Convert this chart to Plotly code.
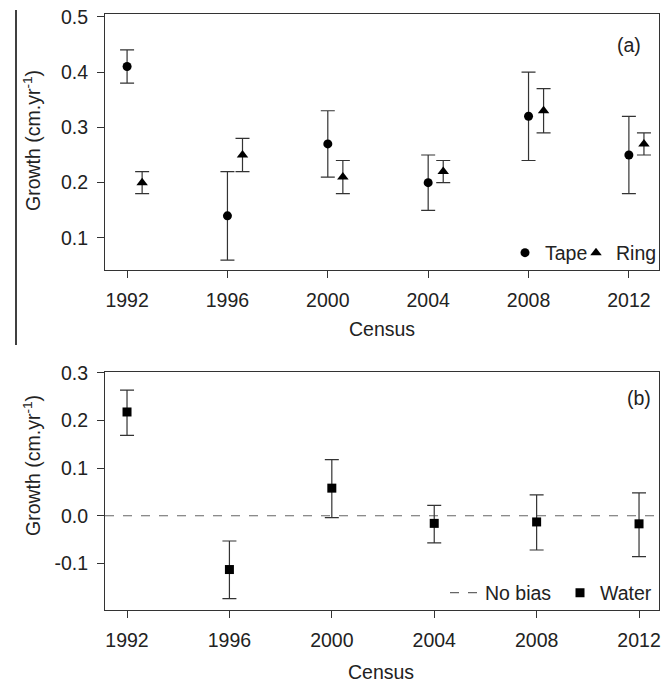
import plotly.graph_objects as go

# ---------------- data ----------------
census = [1992, 1996, 2000, 2004, 2008, 2012]

tape = [0.41, 0.14, 0.27, 0.20, 0.32, 0.25]
tape_lo = [0.38, 0.06, 0.21, 0.15, 0.24, 0.18]
tape_hi = [0.44, 0.22, 0.33, 0.25, 0.40, 0.32]

ring = [0.20, 0.25, 0.21, 0.22, 0.33, 0.27]
ring_lo = [0.18, 0.22, 0.18, 0.20, 0.29, 0.25]
ring_hi = [0.22, 0.28, 0.24, 0.24, 0.37, 0.29]

water = [0.218, -0.113, 0.058, -0.016, -0.013, -0.017]
water_lo = [0.169, -0.174, -0.004, -0.057, -0.072, -0.086]
water_hi = [0.264, -0.053, 0.118, 0.022, 0.044, 0.048]

ya_ticks = [0.1, 0.2, 0.3, 0.4, 0.5]
ya_labels = ["0.1", "0.2", "0.3", "0.4", "0.5"]
yb_ticks = [-0.1, 0.0, 0.1, 0.2, 0.3]
yb_labels = ["-0.1", "0.0", "0.1", "0.2", "0.3"]
x_ticks = census
x_labels = [str(c) for c in census]

# ---------------- layout helpers ----------------
W, H = 671, 683
FONT = "Liberation Sans, Arial, sans-serif"
FS = 19.5
INK = "#222222"
ERR = "#333333"


def px_x(p):
    return p / W


def px_y(p):
    return 1 - p / H


ring_shift = 0.6
ring_x = [c + ring_shift for c in census]

fig = go.Figure()


def err(vals, lo, hi):
    return dict(type="data", symmetric=False,
                array=[h - v for v, h in zip(vals, hi)],
                arrayminus=[v - l for v, l in zip(vals, lo)],
                color=ERR, thickness=1.2, width=7)


fig.add_trace(go.Scatter(x=census, y=tape, mode="markers", name="Tape",
                         marker=dict(symbol="circle", size=9, color="black"),
                         error_y=err(tape, tape_lo, tape_hi),
                         xaxis="x", yaxis="y", legend="legend"))
fig.add_trace(go.Scatter(x=ring_x, y=ring, mode="markers", name="Ring",
                         marker=dict(symbol="triangle-up", size=10, color="black"),
                         error_y=err(ring, ring_lo, ring_hi),
                         xaxis="x", yaxis="y", legend="legend3"))
fig.add_trace(go.Scatter(x=census, y=water, mode="markers", name="Water",
                         marker=dict(symbol="square", size=9, color="black"),
                         error_y=err(water, water_lo, water_hi),
                         xaxis="x2", yaxis="y2", legend="legend4"))

axis_common = dict(showline=True, linecolor="#333333", linewidth=1, mirror=True,
                   ticks="outside", ticklen=7, tickcolor="#333333", tickwidth=1,
                   showgrid=False, zeroline=False, automargin=False,
                   ticklabeloverflow="allow",
                   tickfont=dict(family=FONT, size=FS, color=INK))

top_dom = [px_y(270), px_y(14)]
bot_dom = [px_y(610), px_y(372)]
x_dom = [px_x(105), px_x(659)]


def leg(x, y):
    return dict(orientation="h", x=px_x(x), xanchor="left", y=px_y(y), yanchor="middle",
                bgcolor="rgba(0,0,0,0)", borderwidth=0,
                font=dict(family=FONT, size=FS, color=INK),
                itemwidth=30, tracegroupgap=0)


fig.update_layout(
    template="none",
    width=W, height=H,
    margin=dict(l=0, r=0, t=0, b=0, pad=0),
    paper_bgcolor="white", plot_bgcolor="white",
    font=dict(family=FONT, size=FS, color=INK),
    xaxis=dict(domain=x_dom, anchor="y", range=[1991.12, 2013.2],
               tickvals=x_ticks, ticktext=x_labels, ticklabelstandoff=6, **axis_common),
    yaxis=dict(domain=top_dom, anchor="x", range=[0.042, 0.505],
               tickvals=ya_ticks, ticktext=ya_labels, ticklabelstandoff=5, **axis_common),
    xaxis2=dict(domain=x_dom, anchor="y2", range=[1991.14, 2012.78],
                tickvals=x_ticks, ticktext=x_labels, ticklabelstandoff=6, **axis_common),
    yaxis2=dict(domain=bot_dom, anchor="x2", range=[-0.198, 0.302],
                tickvals=yb_ticks, ticktext=yb_labels, ticklabelstandoff=5, **axis_common),
    legend=leg(505, 253),
    legend3=leg(576, 253),
    legend2=leg(445, 593),
    legend4=leg(560, 593),
    showlegend=True,
)

# reference line (no bias) at zero
fig.add_shape(type="line", xref="x2 domain", yref="y2", x0=0, x1=1, y0=0, y1=0,
              line=dict(color="#666666", width=1.2, dash="dash"),
              showlegend=True, name="No bias", legend="legend2", layer="below")

# stray vertical rule at left
fig.add_shape(type="line", xref="paper", yref="paper", x0=px_x(16), x1=px_x(16),
              y0=px_y(10), y1=px_y(345), line=dict(color="black", width=1.5))

ann = []


def add_text(text, x, y, xa="center", ya="middle", angle=0):
    ann.append(dict(text=text, x=px_x(x), y=px_y(y), xref="paper", yref="paper",
                    xanchor=xa, yanchor=ya, showarrow=False, textangle=angle,
                    font=dict(family=FONT, size=FS, color=INK)))


add_text("Census", 382, 329)
add_text("Census", 381, 672)
add_text("Growth (cm.yr<sup>-1</sup>)", 32, 141, angle=-90)
add_text("Growth (cm.yr<sup>-1</sup>)", 32, 466, angle=-90)
add_text("(a)", 643, 45, xa="right")
add_text("(b)", 653, 398, xa="right")
fig.update_layout(annotations=ann)

fig.write_html("out.html", config={"displayModeBar": False},
               post_script="document.body.style.margin='0px';document.body.style.padding='0px';")
